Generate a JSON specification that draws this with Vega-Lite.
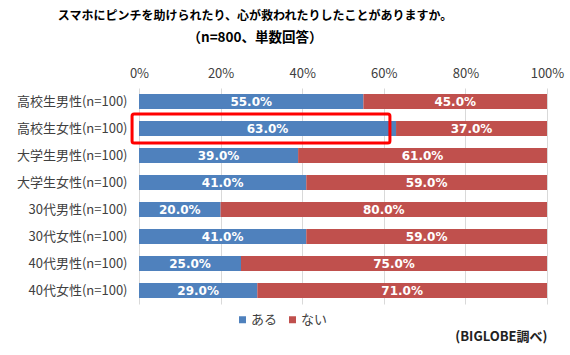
{
  "$schema": "https://vega.github.io/schema/vega-lite/v6.json",
  "autosize": {"type": "none"},
  "padding": {"left": 139, "top": 88, "right": 23, "bottom": 51},
  "width": 408,
  "height": 216,
  "background": "white",
  "config": {
    "view": {"stroke": null},
    "font": "Noto Sans CJK JP",
    "axis": {"labelFont": "Noto Sans CJK JP", "titleFont": "Noto Sans CJK JP"},
    "legend": {"labelFont": "Noto Sans CJK JP"}
  },
  "title": {
    "text": "スマホにピンチを助けられたり、心が救われたりしたことがありますか。",
    "subtitle": "（n=800、単数回答）",
    "fontSize": 12,
    "fontWeight": "bold",
    "color": "#000000",
    "subtitleFont": "Noto Sans CJK JP",
    "subtitleFontSize": 13.5,
    "subtitleFontWeight": "bold",
    "subtitleColor": "#000000",
    "subtitlePadding": 8,
    "anchor": "middle",
    "frame": "group",
    "dx": -88,
    "offset": 22
  },
  "datasets": {
    "survey": [
      {"group": "高校生男性(n=100)", "answer": "ある", "value": 0.55},
      {"group": "高校生男性(n=100)", "answer": "ない", "value": 0.45},
      {"group": "高校生女性(n=100)", "answer": "ある", "value": 0.63},
      {"group": "高校生女性(n=100)", "answer": "ない", "value": 0.37},
      {"group": "大学生男性(n=100)", "answer": "ある", "value": 0.39},
      {"group": "大学生男性(n=100)", "answer": "ない", "value": 0.61},
      {"group": "大学生女性(n=100)", "answer": "ある", "value": 0.41},
      {"group": "大学生女性(n=100)", "answer": "ない", "value": 0.59},
      {"group": "30代男性(n=100)", "answer": "ある", "value": 0.20},
      {"group": "30代男性(n=100)", "answer": "ない", "value": 0.80},
      {"group": "30代女性(n=100)", "answer": "ある", "value": 0.41},
      {"group": "30代女性(n=100)", "answer": "ない", "value": 0.59},
      {"group": "40代男性(n=100)", "answer": "ある", "value": 0.25},
      {"group": "40代男性(n=100)", "answer": "ない", "value": 0.75},
      {"group": "40代女性(n=100)", "answer": "ある", "value": 0.29},
      {"group": "40代女性(n=100)", "answer": "ない", "value": 0.71}
    ],
    "highlight": [
      {"group": "高校生女性(n=100)", "from": -0.017, "to": 0.615}
    ]
  },
  "encoding": {
    "y": {
      "field": "group", "type": "nominal", "sort": null,
      "scale": {"paddingInner": 0.44, "paddingOuter": 0.22},
      "axis": {"title": null, "ticks": false, "domain": false, "labelFontSize": 13, "labelColor": "#404040", "labelPadding": 12}
    }
  },
  "layer": [
    {
      "data": {"name": "survey"},
      "mark": {"type": "bar"},
      "encoding": {
        "x": {
          "field": "value", "type": "quantitative", "stack": "zero",
          "scale": {"domain": [0, 1], "nice": false},
          "axis": {"orient": "top", "title": null, "format": ".0%", "values": [0, 0.2, 0.4, 0.6, 0.8, 1], "ticks": false, "domain": false, "labelFontSize": 13, "labelColor": "#404040", "labelPadding": 8, "grid": true, "gridColor": "#d9d9d9", "labelFlush": false}
        },
        "color": {
          "field": "answer", "type": "nominal",
          "scale": {"domain": ["ある", "ない"], "range": ["#4F81BD", "#C0504D"]},
          "legend": {"title": null, "orient": "none", "legendX": 97, "legendY": 225, "direction": "horizontal", "symbolType": "square", "symbolSize": 49, "symbolStrokeWidth": 0, "labelFontSize": 13, "labelColor": "#404040", "columnPadding": 8, "labelOffset": 2}
        },
        "order": {"field": "answer", "type": "nominal", "sort": "ascending"}
      }
    },
    {
      "data": {"name": "survey"},
      "transform": [
        {"stack": "value", "groupby": ["group"], "sort": [{"field": "answer", "order": "ascending"}], "as": ["v0", "v1"]},
        {"calculate": "(datum.v0 + datum.v1) / 2", "as": "mid"}
      ],
      "mark": {"type": "text", "color": "white", "fontWeight": "bold", "fontSize": 12, "baseline": "middle", "align": "center", "font": "DejaVu Sans"},
      "encoding": {
        "x": {"field": "mid", "type": "quantitative", "axis": null},
        "text": {"field": "value", "type": "quantitative", "format": ".1%"}
      }
    },
    {
      "data": {"name": "highlight"},
      "mark": {"type": "bar", "filled": false, "stroke": "#FF0000", "strokeWidth": 3, "cornerRadius": 2, "height": {"band": 1.92}},
      "encoding": {
        "x": {"field": "from", "type": "quantitative", "axis": {"orient": "bottom", "title": "(BIGLOBE調べ)", "labels": false, "ticks": false, "domain": false, "grid": false, "titleAnchor": "end", "titleFontSize": 13, "titleFontWeight": "bold", "titleColor": "#222222", "titlePadding": 26}},
        "x2": {"field": "to"}
      }
    }
  ]
}
